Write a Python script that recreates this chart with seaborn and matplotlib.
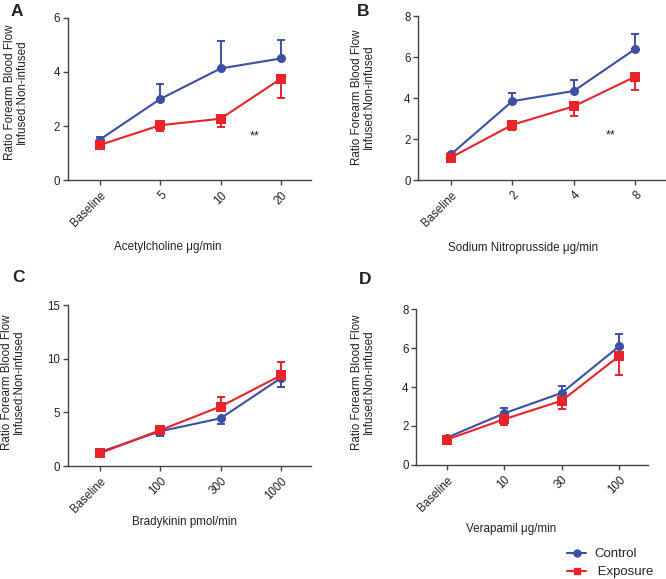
import numpy as np
import pandas as pd
import matplotlib
matplotlib.use('Agg')
import matplotlib.pyplot as plt
import seaborn as sns
from matplotlib.lines import Line2D

sns.set_theme(style='ticks')
plt.rcParams['font.family'] = ['Liberation Sans', 'DejaVu Sans']

BLUE = '#3B4FA3'
RED = '#E8232A'
TXT = '#222222'
W, H = 666, 579

# Panel A - Acetylcholine
ach_doses = ['Baseline', '5', '10', '20']
ach_control = [1.5, 3.0, 4.13, 4.5]
ach_control_err = [0.1, 0.55, 1.0, 0.7]
ach_exposure = [1.3, 2.03, 2.27, 3.75]
ach_exposure_err = [0.12, 0.23, 0.3, 0.7]

# Panel B - Sodium nitroprusside
snp_doses = ['Baseline', '2', '4', '8']
snp_control = [1.25, 3.85, 4.35, 6.4]
snp_control_err = [0.05, 0.42, 0.55, 0.75]
snp_exposure = [1.1, 2.7, 3.6, 5.05]
snp_exposure_err = [0.05, 0.25, 0.45, 0.65]

# Panel C - Bradykinin
bk_doses = ['Baseline', '100', '300', '1000']
bk_control = [1.3, 3.25, 4.45, 8.2]
bk_control_err = [0.15, 0.4, 0.5, 0.8]
bk_exposure = [1.2, 3.35, 5.55, 8.45]
bk_exposure_err = [0.1, 0.3, 0.85, 1.25]

# Panel D - Verapamil
ver_doses = ['Baseline', '10', '30', '100']
ver_control = [1.4, 2.65, 3.7, 6.1]
ver_control_err = [0.08, 0.3, 0.35, 0.65]
ver_exposure = [1.3, 2.35, 3.3, 5.6]
ver_exposure_err = [0.1, 0.3, 0.45, 1.0]


def px(x, y):
    # pixel position -> figure fraction
    return x / W, 1 - y / H


panels = [
    dict(letter='A', lpos=(11, 4), doses=ach_doses, c=ach_control, ce=ach_control_err, cdir='up',
         e=ach_exposure, ee=ach_exposure_err, edir='down', ymax=6, yticks=[0, 2, 4, 6],
         xlabel='Acetylcholine \u03bcg/min', xlpos=(168, 247), ylpos=(16, 92),
         star=(2.57, 1.6), rect=[0.102, 0.689, 0.365, 0.280]),
    dict(letter='B', lpos=(357, 4), doses=snp_doses, c=snp_control, ce=snp_control_err, cdir='up',
         e=snp_exposure, ee=snp_exposure_err, edir='down', ymax=8, yticks=[0, 2, 4, 6, 8],
         xlabel='Sodium Nitroprusside \u03bcg/min', xlpos=(523, 248), ylpos=(363, 97),
         star=(2.6, 2.2), rect=[0.628, 0.689, 0.372, 0.283]),
    dict(letter='C', lpos=(12, 270), doses=bk_doses, c=bk_control, ce=bk_control_err, cdir='down',
         e=bk_exposure, ee=bk_exposure_err, edir='up', ymax=15, yticks=[0, 5, 10, 15],
         xlabel='Bradykinin pmol/min', xlpos=(184, 522), ylpos=(13, 382),
         star=None, rect=[0.102, 0.195, 0.365, 0.278]),
    dict(letter='D', lpos=(359, 272), doses=ver_doses, c=ver_control, ce=ver_control_err, cdir='up',
         e=ver_exposure, ee=ver_exposure_err, edir='down', ymax=8, yticks=[0, 2, 4, 6, 8],
         xlabel='Verapamil \u03bcg/min', xlpos=(511, 529), ylpos=(363, 382),
         star=None, rect=[0.625, 0.197, 0.348, 0.269]),
]

fig = plt.figure(figsize=(W / 100, H / 100), dpi=100)

for p in panels:
    ax = fig.add_axes(p['rect'])
    x = np.arange(len(p['doses']))
    df = pd.DataFrame({
        'dose': np.concatenate([x, x]),
        'value': p['c'] + p['e'],
        'group': ['Control'] * len(x) + ['Exposure'] * len(x),
    })
    # one-sided error bars
    for vals, errs, d, col in [(p['c'], p['ce'], p['cdir'], BLUE),
                               (p['e'], p['ee'], p['edir'], RED)]:
        zeros = np.zeros(len(errs))
        yerr = [zeros, errs] if d == 'up' else [errs, zeros]
        ax.errorbar(x, vals, yerr=yerr, fmt='none', ecolor=col, elinewidth=1.4,
                    capsize=3, capthick=1.4, zorder=2)
    sns.lineplot(data=df, x='dose', y='value', hue='group', style='group',
                 palette={'Control': BLUE, 'Exposure': RED},
                 markers={'Control': 'o', 'Exposure': 's'}, dashes=False,
                 markersize=6.5, markeredgewidth=0, linewidth=1.5,
                 legend=False, ax=ax, zorder=3)
    ax.set_xlim(-0.53, 3.5)
    ax.set_ylim(0, p['ymax'])
    ax.set_yticks(p['yticks'])
    ax.set_xticks(x)
    ax.set_xticklabels(p['doses'], rotation=45, ha='right', rotation_mode='anchor')
    ax.tick_params(axis='both', labelsize=8.3, length=3.5, width=1, color='#444444',
                   labelcolor=TXT, pad=2)
    ax.tick_params(axis='x', pad=3)
    for s in ['left', 'bottom']:
        ax.spines[s].set_linewidth(1)
        ax.spines[s].set_color('#444444')
    sns.despine(ax=ax)
    ax.set_xlabel('')
    ax.set_ylabel('')
    fx, fy = px(*p['xlpos'])
    fig.text(fx, fy, p['xlabel'], fontsize=8.4, color=TXT, ha='center', va='center')
    fx, fy = px(*p['ylpos'])
    fig.text(fx, fy, 'Ratio Forearm Blood Flow\nInfused:Non-infused', fontsize=8.4,
             color=TXT, ha='center', va='center', rotation=90, linespacing=1.05,
             multialignment='center')
    if p['star'] is not None:
        ax.text(p['star'][0], p['star'][1], '**', fontsize=9, ha='center',
                va='center', color=TXT)
    fx, fy = px(*p['lpos'])
    fig.text(fx, fy, p['letter'], fontsize=12.5, fontweight='bold', va='top', color=TXT)

handles = [Line2D([0], [0], color=BLUE, marker='o', markersize=5, lw=1.5),
           Line2D([0], [0], color=RED, marker='s', markersize=5, lw=1.5)]
fig.legend(handles, ['Control', ' Exposure'], loc='upper left',
           bbox_to_anchor=px(567, 548), frameon=False, fontsize=9.5,
           handlelength=1.45, handletextpad=0.6, labelspacing=0.45,
           borderpad=0, borderaxespad=0)

fig.savefig('out.png', dpi=100, facecolor='white')
